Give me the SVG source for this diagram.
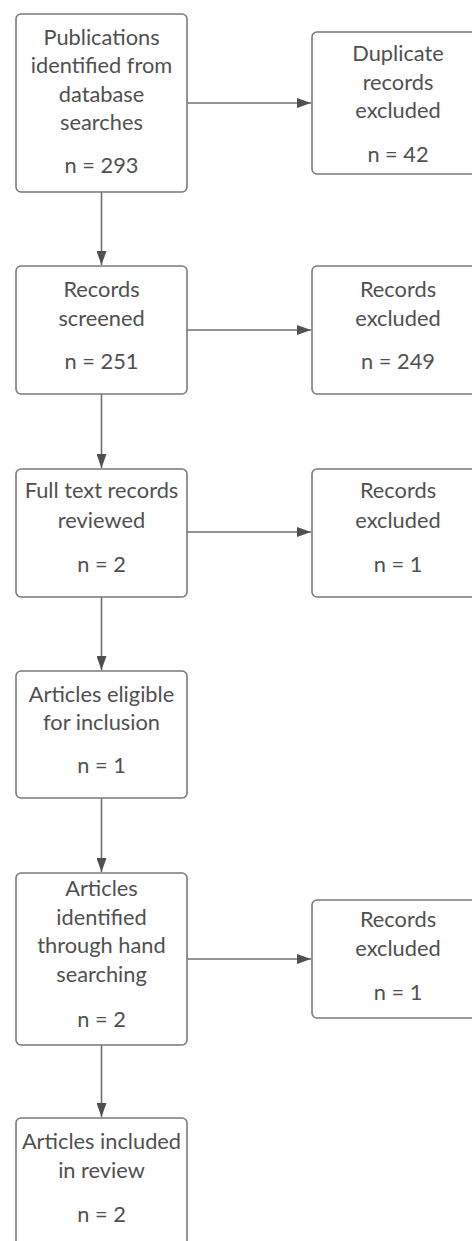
<svg xmlns="http://www.w3.org/2000/svg" width="472" height="1241" viewBox="0 0 472 1241">
<style>
.box{fill:#fff;stroke:#7a7a7a;stroke-width:1.6}
.t{font-family:Lato,"Open Sans","Liberation Sans",sans-serif;font-size:21.8px;fill:#505050;text-anchor:middle}
.c{stroke:#707070;stroke-width:1.6;fill:none}
</style>
<defs>
<marker id="ah" viewBox="0 0 14 10" refX="14" refY="5" markerWidth="14" markerHeight="10" markerUnits="userSpaceOnUse" orient="auto">
<path d="M0,0 L14,5 L0,10 Z" fill="#505050"/>
</marker>
</defs>
<rect width="472" height="1241" fill="#fff"/>
<g id="connectors">
<line class="c" x1="187" y1="103" x2="311" y2="103" marker-end="url(#ah)"/>
<line class="c" x1="101.5" y1="192" x2="101.5" y2="265" marker-end="url(#ah)"/>
<line class="c" x1="187" y1="330" x2="311" y2="330" marker-end="url(#ah)"/>
<line class="c" x1="101.5" y1="394" x2="101.5" y2="468" marker-end="url(#ah)"/>
<line class="c" x1="187" y1="532" x2="311" y2="532" marker-end="url(#ah)"/>
<line class="c" x1="101.5" y1="597" x2="101.5" y2="670" marker-end="url(#ah)"/>
<line class="c" x1="101.5" y1="798" x2="101.5" y2="872" marker-end="url(#ah)"/>
<line class="c" x1="187" y1="959" x2="311" y2="959" marker-end="url(#ah)"/>
<line class="c" x1="101.5" y1="1045" x2="101.5" y2="1117" marker-end="url(#ah)"/>
</g>
<g id="n1">
<rect class="box" x="16" y="14" width="171" height="178" rx="5"/>
<text class="t" x="101.5" y="45">Publications</text>
<text class="t" x="101.5" y="73">identified from</text>
<text class="t" x="101.5" y="102">database</text>
<text class="t" x="101.5" y="130">searches</text>
<text class="t" x="101.5" y="173">n = 293</text>
</g>
<g id="n2">
<rect class="box" x="312" y="32" width="172" height="142" rx="5"/>
<text class="t" x="398" y="61">Duplicate</text>
<text class="t" x="398" y="90">records</text>
<text class="t" x="398" y="118">excluded</text>
<text class="t" x="398" y="162">n = 42</text>
</g>
<g id="n3">
<rect class="box" x="16" y="266" width="171" height="128" rx="5"/>
<text class="t" x="101.5" y="297">Records</text>
<text class="t" x="101.5" y="326">screened</text>
<text class="t" x="101.5" y="369">n = 251</text>
</g>
<g id="n4">
<rect class="box" x="312" y="266" width="172" height="128" rx="5"/>
<text class="t" x="398" y="297">Records</text>
<text class="t" x="398" y="326">excluded</text>
<text class="t" x="398" y="369">n = 249</text>
</g>
<g id="n5">
<rect class="box" x="16" y="469" width="171" height="128" rx="5"/>
<text class="t" x="101.5" y="498">Full text records</text>
<text class="t" x="101.5" y="528">reviewed</text>
<text class="t" x="101.5" y="572">n = 2</text>
</g>
<g id="n6">
<rect class="box" x="312" y="469" width="172" height="128" rx="5"/>
<text class="t" x="398" y="498">Records</text>
<text class="t" x="398" y="528">excluded</text>
<text class="t" x="398" y="572">n = 1</text>
</g>
<g id="n7">
<rect class="box" x="16" y="671" width="171" height="127" rx="5"/>
<text class="t" x="101.5" y="702">Articles eligible</text>
<text class="t" x="101.5" y="730">for inclusion</text>
<text class="t" x="101.5" y="773">n = 1</text>
</g>
<g id="n8">
<rect class="box" x="16" y="873" width="171" height="172" rx="5"/>
<text class="t" x="101.5" y="896">Articles</text>
<text class="t" x="101.5" y="925">identified</text>
<text class="t" x="101.5" y="953">through hand</text>
<text class="t" x="101.5" y="982">searching</text>
<text class="t" x="101.5" y="1027">n = 2</text>
</g>
<g id="n9">
<rect class="box" x="312" y="900" width="172" height="118" rx="5"/>
<text class="t" x="398" y="927">Records</text>
<text class="t" x="398" y="956">excluded</text>
<text class="t" x="398" y="1000">n = 1</text>
</g>
<g id="n10">
<rect class="box" x="16" y="1118" width="171" height="140" rx="5"/>
<text class="t" x="101.5" y="1149">Articles included</text>
<text class="t" x="101.5" y="1178">in review</text>
<text class="t" x="101.5" y="1222">n = 2</text>
</g>
</svg>
